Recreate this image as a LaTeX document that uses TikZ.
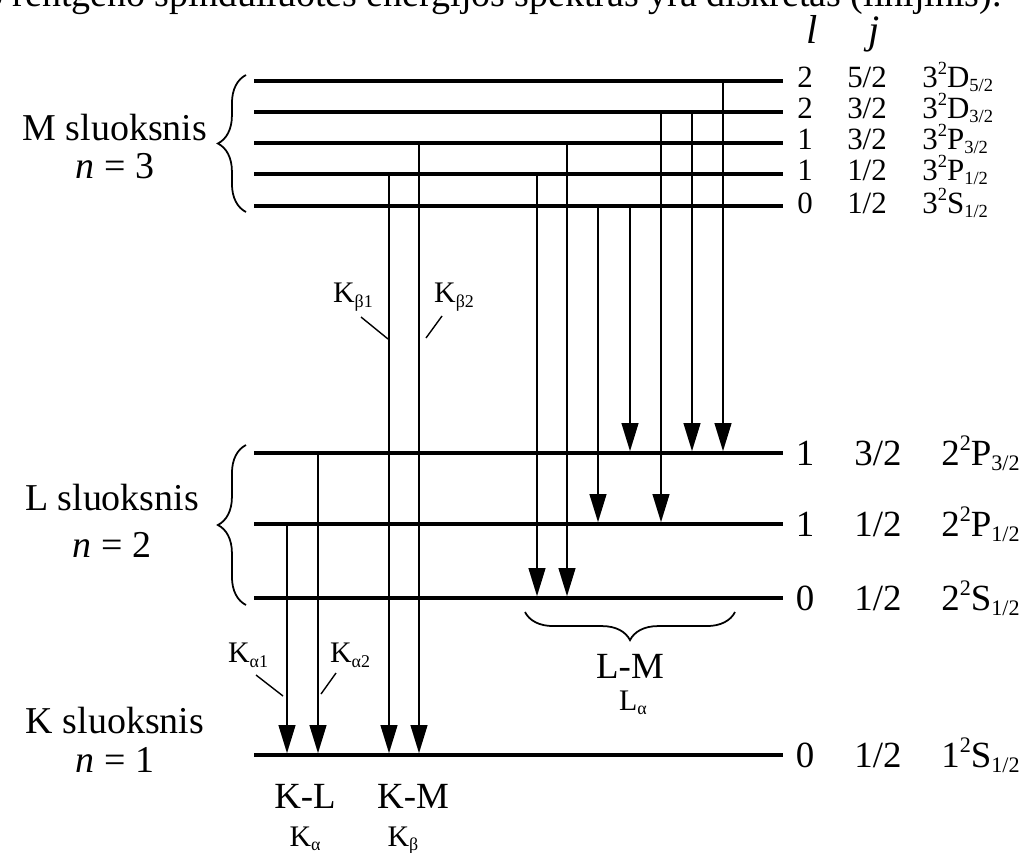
\documentclass[tikz,border=0pt]{standalone}
\usepackage{fontspec}
\setmainfont{Liberation Serif}
\usetikzlibrary{arrows.meta,decorations.pathreplacing}
\newcommand{\tsub}[1]{\raisebox{-0.35ex}{\scalebox{0.6}{#1}}}
\newcommand{\tsup}[1]{\raisebox{0.85ex}{\scalebox{0.6}{#1}}}
\tikzset{
 level/.style={line width=2pt},
 ray/.style={line width=1.2pt,shorten >=1pt,-{Triangle[length=16pt,width=9.5pt]}},
 lead/.style={line width=0.8pt},
 shellbrace/.style={line width=1pt,decorate,decoration={brace,amplitude=16pt}},
 big/.style={font=\fontsize{21.6}{24}\selectfont,inner sep=0pt},
 mid/.style={font=\fontsize{21}{24}\selectfont,inner sep=0pt},
 small/.style={font=\fontsize{17.6}{20}\selectfont,inner sep=0pt},
 tiny/.style={font=\fontsize{17}{18}\selectfont,inner sep=0pt},
}

\begin{document}
\begin{tikzpicture}[x=0.02cm,y=-0.02cm]
 \useasboundingbox (0,0) rectangle (1024,852);
 \clip (0,0) rectangle (1024,852);
 % text line cut off at the top
 \node[big,anchor=base east] (head) at (1002,7) {o rentgeno spinduliuotės energijos spektras yra diskretas (linijinis).};
 \node[big,anchor=base,font=\fontsize{23}{24}\selectfont\itshape] (lcol) at (812,43) {l};
 \node[big,anchor=base,font=\fontsize{23}{24}\selectfont\itshape] (jcol) at (874,43) {j};

 % levels
 \draw[level] (254,81) coordinate (MD52) -- (783,81);
 \draw[level] (254,112) coordinate (MD32) -- (783,112);
 \draw[level] (254,143) coordinate (MP32) -- (783,143);
 \draw[level] (254,174) coordinate (MP12) -- (783,174);
 \draw[level] (254,206) coordinate (MS) -- (783,206);
 \draw[level] (254,453) coordinate (LP32) -- (783,453);
 \draw[level] (254,524) coordinate (LP12) -- (783,524);
 \draw[level] (254,598) coordinate (LS) -- (783,598);
 \draw[level] (254,755) coordinate (KS) -- (783,755);

 % M terms
 \node[small,anchor=base] (lMD52) at (805,87) {2};
 \node[small,anchor=base] (jMD52) at (867,87) {5/2};
 \node[small,anchor=base west] (tMD52) at (922,87) {3\tsup{2}D\tsub{5/2}};
 \node[small,anchor=base] (lMD32) at (805,118) {2};
 \node[small,anchor=base] (jMD32) at (867,118) {3/2};
 \node[small,anchor=base west] (tMD32) at (922,118) {3\tsup{2}D\tsub{3/2}};
 \node[small,anchor=base] (lMP32) at (805,149) {1};
 \node[small,anchor=base] (jMP32) at (867,149) {3/2};
 \node[small,anchor=base west] (tMP32) at (922,149) {3\tsup{2}P\tsub{3/2}};
 \node[small,anchor=base] (lMP12) at (805,180) {1};
 \node[small,anchor=base] (jMP12) at (867,180) {1/2};
 \node[small,anchor=base west] (tMP12) at (922,180) {3\tsup{2}P\tsub{1/2}};
 \node[small,anchor=base] (lMS) at (805,213) {0};
 \node[small,anchor=base] (jMS) at (867,213) {1/2};
 \node[small,anchor=base west] (tMS) at (922,213) {3\tsup{2}S\tsub{1/2}};
 % L and K terms
 \node[mid,anchor=base] (lLP32) at (805,465) {1};
 \node[mid,anchor=base] (jLP32) at (878,465) {3/2};
 \node[mid,anchor=base west] (tLP32) at (941,465) {2\tsup{2}P\tsub{3/2}};
 \node[mid,anchor=base] (lLP12) at (805,536) {1};
 \node[mid,anchor=base] (jLP12) at (878,536) {1/2};
 \node[mid,anchor=base west] (tLP12) at (941,536) {2\tsup{2}P\tsub{1/2}};
 \node[mid,anchor=base] (lLS) at (805,610) {0};
 \node[mid,anchor=base] (jLS) at (878,610) {1/2};
 \node[mid,anchor=base west] (tLS) at (941,610) {2\tsup{2}S\tsub{1/2}};
 \node[mid,anchor=base] (lKS) at (805,767) {0};
 \node[mid,anchor=base] (jKS) at (878,767) {1/2};
 \node[mid,anchor=base west] (tKS) at (941,767) {1\tsup{2}S\tsub{1/2}};

 % shells
 \node[big,anchor=base] (Mshell) at (115,140) {M sluoksnis};
 \node[big,anchor=base] (Mn) at (115,178) {\textit{n} = 3};
 \node[big,anchor=base] (Lshell) at (112,510) {L sluoksnis};
 \node[big,anchor=base] (Ln) at (112,557) {\textit{n} = 2};
 \node[big,anchor=base] (Kshell) at (115,733) {K sluoksnis};
 \node[big,anchor=base] (Kn) at (115,772) {\textit{n} = 1};
 \draw[shellbrace] (246,212) -- (246,75);
 \draw[shellbrace] (246,605) -- (246,445);

 % transitions
 \coordinate (c1) at (287,0);
 \coordinate (c2) at (318,0);
 \coordinate (c3) at (389,0);
 \coordinate (c4) at (419,0);
 \coordinate (c5) at (537,0);
 \coordinate (c6) at (567,0);
 \coordinate (c7) at (598,0);
 \coordinate (c8) at (630,0);
 \coordinate (c9) at (661,0);
 \coordinate (c10) at (692,0);
 \coordinate (c11) at (723,0);
 \draw[ray] (c1 |- LP12) -- (c1 |- KS);
 \draw[ray] (c2 |- LP32) -- (c2 |- KS);
 \draw[ray] (c3 |- MP12) -- (c3 |- KS);
 \draw[ray] (c4 |- MP32) -- (c4 |- KS);
 \draw[ray] (c5 |- MP12) -- (c5 |- LS);
 \draw[ray] (c6 |- MP32) -- (c6 |- LS);
 \draw[ray] (c7 |- MS) -- (c7 |- LP12);
 \draw[ray] (c8 |- MS) -- (c8 |- LP32);
 \draw[ray] (c9 |- MD32) -- (c9 |- LP12);
 \draw[ray] (c10 |- MD32) -- (c10 |- LP32);
 \draw[ray] (c11 |- MD52) -- (c11 |- LP32);

 % line labels
 \node[tiny] (kb1) at (353,297) {K\tsub{β1}};
 \node[tiny] (kb2) at (454,297) {K\tsub{β2}};
 \node[tiny] (ka1) at (248,655) {K\tsub{α1}};
 \node[tiny] (ka2) at (350,655) {K\tsub{α2}};
 \draw[lead] (kb1) ++(8,20) -- ++(27,22);
 \draw[lead] (kb2) ++(-12,19) -- ++(-16,22);
 \draw[lead] (ka1) ++(8,20) -- ++(27,21);
 \draw[lead] (ka2) ++(-14,18) -- ++(-15,21);

 % series
 \node[mid,anchor=base] (KL) at (305,808) {K-L};
 \node[mid,anchor=base] (KM) at (413,808) {K-M};
 \node[tiny,anchor=base] (Ka) at (305,846) {K\tsub{α}};
 \node[tiny,anchor=base] (Kb) at (403,846) {K\tsub{β}};
 \draw[shellbrace] (735,612) -- (525,612);
 \node[mid,anchor=base] (LM) at (630,678) {L-M};
 \node[tiny,anchor=base] (La) at (633,710) {L\tsub{α}};
\end{tikzpicture}
\end{document}
